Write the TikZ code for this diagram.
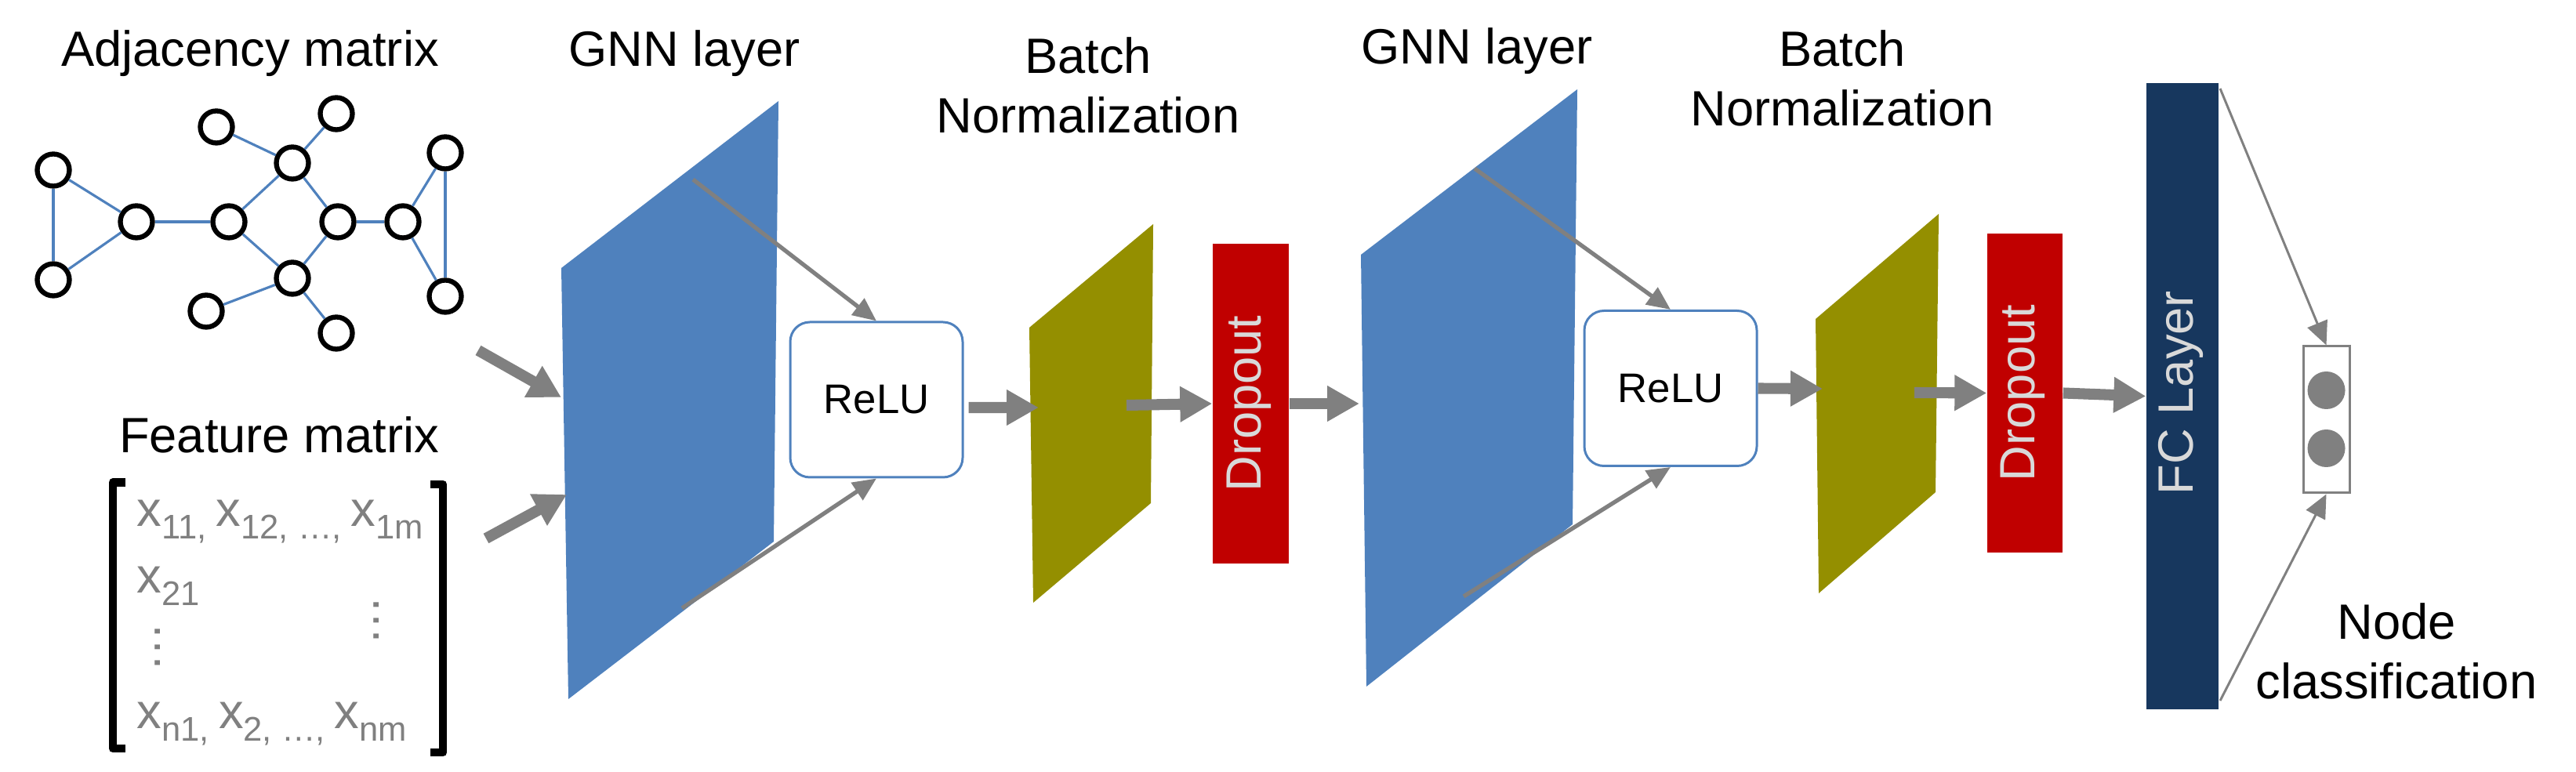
\documentclass[tikz,border=0pt]{standalone}
\usepackage{fontspec}
\setmainfont{Liberation Sans}
\usetikzlibrary{arrows.meta}

\definecolor{gnnblue}{RGB}{79,129,189}
\definecolor{bnolive}{RGB}{148,143,0}
\definecolor{dropred}{RGB}{192,0,0}
\definecolor{fcnavy}{RGB}{23,55,94}
\definecolor{arrowgray}{RGB}{128,128,128}
\definecolor{lightlabel}{RGB}{217,217,217}

\newcommand{\bigfont}{\fontsize{18}{21.6}\selectfont}
\newcommand{\xs}[1]{x\raisebox{-4.4pt}{\fontsize{12.4}{12.4}\selectfont #1}}

\begin{document}
\begin{tikzpicture}[every node/.style={font=\bigfont, inner sep=0pt},
	vert/.style={circle, draw=black, line width=1.8pt, fill=white, minimum size=4.1mm},
	edge/.style={gnnblue, line width=0.9pt},
	fatarrow/.style={arrowgray, line width=4pt, -{Triangle[length=4.1mm, width=4.3mm]}},
	thinarrow/.style={arrowgray, line width=1.5pt, -{Triangle[length=3mm, width=2.6mm]}},
	hairarrow/.style={arrowgray, line width=0.85pt, -{Triangle[length=3mm, width=2.7mm]}},
	entry/.style={arrowgray, anchor=base west},
	sidelabel/.style={lightlabel, rotate=90, text height=0.72em, text depth=0pt},
	relubox/.style={draw=gnnblue, line width=0.85pt, rounded corners=2.5mm, minimum width=2.2cm, minimum height=1.98cm, font=\fontsize{15}{18}\selectfont}]
	\useasboundingbox (0,0) rectangle (32.86,9.85);
	% input graph
	\node[anchor=base] (adjtitle) at (3.19,9.00) {Adjacency matrix};
	\foreach \n/\x/\y in {A/0.68/7.68, B/0.68/6.28, C/1.74/7.02, D/2.92/7.02, E/2.76/8.23, F/3.73/7.77, G/4.29/8.40, H/4.31/7.02, I/3.73/6.30, J/2.63/5.88, K/4.29/5.60, L/5.14/7.02, M/5.68/7.90, N/5.68/6.07}
		{\node[vert] (\n) at (\x,\y) {};}
	\foreach \a/\b in {A/B, A/C, B/C, C/D, D/F, D/I, E/F, G/F, F/H, H/I, I/J, I/K, H/L, L/M, L/N, M/N}
		{\draw[edge] (\a) -- (\b);}
	% feature matrix
	\node[anchor=base] (feattitle) at (3.56,4.07) {Feature matrix};
	\draw[line width=3.1pt, line join=round] (1.60,3.695) -- (1.44,3.695) -- (1.44,0.30) -- (1.60,0.30);
	\draw[line width=3.1pt, line join=round] (5.49,3.67) -- (5.65,3.67) -- (5.65,0.25) -- (5.49,0.25);
	\node[entry] (row1) at (1.74,3.13) {\xs{11, }\xs{12, …, }\xs{1m}};
	\node[entry] (row2) at (1.74,2.28) {\xs{21}};
	\node[entry] (rown) at (1.74,0.55) {\xs{n1, }\xs{2, …, }\xs{nm}};
	\node[arrowgray, rotate=90] (vdotl) at (2.01,1.59) {…};
	\node[arrowgray, rotate=90] (vdotr) at (4.80,1.93) {…};
	% first GNN block
	\node[anchor=base] (gnn1title) at (8.73,9.00) {GNN layer};
	\fill[gnnblue] (7.16,6.43) -- (9.93,8.56) -- (9.87,2.94) -- (7.25,0.93) -- cycle;
	\coordinate (adjout) at (6.10,5.38);
	\coordinate (featout) at (6.20,2.98);
	\coordinate (gnn1in1) at (7.16,4.78);
	\coordinate (gnn1in2) at (7.23,3.54);
	\coordinate (gnn1top) at (8.84,7.56);
	\coordinate (gnn1bot) at (8.70,2.09);
	\draw[fatarrow] (adjout) -- (gnn1in1);
	\draw[fatarrow] (featout) -- (gnn1in2);
	\node[relubox] (relu1) at (11.18,4.75) {ReLU};
	\draw[thinarrow] (gnn1top) -- (relu1.north);
	\draw[thinarrow] (gnn1bot) -- (relu1.south);
	\node[align=center, anchor=north] (bn1title) at (13.88,9.38) {Batch\\Normalization};
	\fill[bnolive] (13.13,5.67) -- (14.71,6.99) -- (14.68,3.43) -- (13.18,2.16) -- cycle;
	\coordinate (bn1in) at (13.25,4.65);
	\coordinate (bn1out) at (14.37,4.68);
	\draw[fatarrow] ([shift={(0.06,-0.1)}]relu1.east) -- (bn1in);
	\node[fill=dropred, minimum width=0.97cm, minimum height=4.08cm] (drop1) at (15.955,4.70) {};
	\node[sidelabel] (drop1text) at (drop1) {Dropout};
	\draw[fatarrow] (bn1out) -- (drop1.west);
	% second GNN block
	\node[anchor=base] (gnn2title) at (18.84,9.03) {GNN layer};
	\fill[gnnblue] (17.36,6.60) -- (20.12,8.71) -- (20.06,3.16) -- (17.43,1.09) -- cycle;
	\coordinate (gnn2in) at (17.34,4.70);
	\coordinate (gnn2top) at (18.81,7.70);
	\coordinate (gnn2bot) at (18.67,2.24);
	\draw[fatarrow] (drop1.east) -- (gnn2in);
	\node[relubox] (relu2) at (21.31,4.895) {ReLU};
	\draw[thinarrow] (gnn2top) -- (relu2.north);
	\draw[thinarrow] (gnn2bot) -- (relu2.south);
	\node[align=center, anchor=north] (bn2title) at (23.50,9.47) {Batch\\Normalization};
	\fill[bnolive] (23.16,5.78) -- (24.73,7.12) -- (24.69,3.57) -- (23.20,2.28) -- cycle;
	\coordinate (bn2in) at (23.25,4.89);
	\coordinate (bn2out) at (24.42,4.84);
	\draw[fatarrow] (relu2.east) -- (bn2in);
	\node[fill=dropred, minimum width=0.96cm, minimum height=4.07cm] (drop2) at (25.83,4.835) {};
	\node[sidelabel] (drop2text) at (drop2) {Dropout};
	\draw[fatarrow] (bn2out) -- (drop2.west);
	% classifier
	\node[fill=fcnavy, minimum width=0.92cm, minimum height=7.99cm] (fc) at (27.84,4.795) {};
	\node[sidelabel] (fctext) at (27.845,4.84) {FC Layer};
	\draw[fatarrow] (drop2.east) -- (fc.west);
	\node[draw=arrowgray, line width=0.85pt, minimum width=0.59cm, minimum height=1.87cm] (out) at (29.675,4.495) {};
	\node[circle, fill=arrowgray, minimum size=4.8mm] (class1) at (29.675,4.87) {};
	\node[circle, fill=arrowgray, minimum size=4.8mm] (class2) at (29.675,4.13) {};
	\coordinate (fctop) at (28.32,8.72);
	\coordinate (fcbot) at (28.32,0.91);
	\draw[hairarrow] (fctop) -- (out.north);
	\draw[hairarrow] (fcbot) -- (out.south);
	\node[align=center, anchor=north] (outtitle) at (30.57,2.16) {Node\\classification};
\end{tikzpicture}
\end{document}
